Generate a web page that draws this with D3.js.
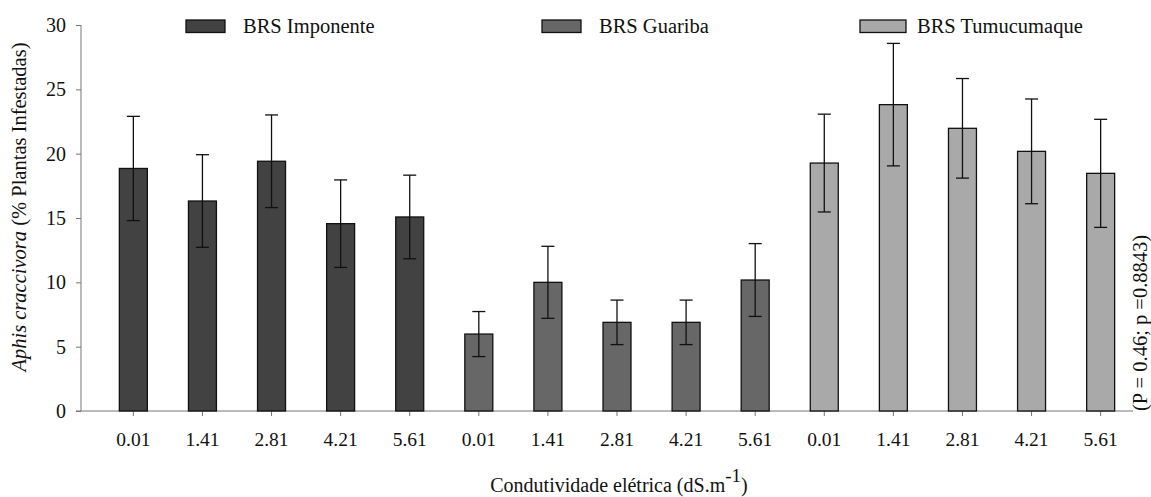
<!DOCTYPE html>
<html>
<head>
<meta charset="utf-8">
<script src="https://cdn.jsdelivr.net/npm/d3@7"></script>
<style>
  body { margin: 0; background: #fff; }
  text { font-family: "Liberation Serif" !important; }
</style>
</head>
<body>
<div id="chart"></div>
<script>
// data
var cultivars = ["BRS Imponente", "BRS Guariba", "BRS Tumucumaque"];
var conductivity = ["0.01", "1.41", "2.81", "4.21", "5.61"];
var means = [
  [18.85, 16.32, 19.41, 14.56, 15.08],
  [5.98, 10.0, 6.89, 6.89, 10.18],
  [19.27, 23.81, 21.97, 20.18, 18.47]
];
var errors = [
  [4.05, 3.6, 3.6, 3.4, 3.25],
  [1.75, 2.8, 1.73, 1.73, 2.83],
  [3.8, 4.76, 3.87, 4.07, 4.2]
];
var yTicks = [0, 5, 10, 15, 20, 25, 30];
var colors = ["#424242", "#676767", "#a9a9a9"];

var width = 1151, height = 497;
var serif = "Liberation Serif";

// flatten into one row per bar
var bars = [];
cultivars.forEach(function(c, g) {
  conductivity.forEach(function(ce, i) {
    bars.push({ key: g + "-" + i, group: g, label: ce, value: means[g][i], err: errors[g][i] });
  });
});

var svg = d3.select("#chart")
            .append("svg")
            .attr("width", width)
            .attr("height", height)
            .attr("font-family", serif)
            .style("font-family", "'" + serif + "'");

var x = d3.scaleBand()
    .domain(bars.map(function(d) { return d.key; }))
    .range([98.8, 1135.2])
    .paddingInner(0.595)
    .paddingOuter(0.2975);

var y = d3.scaleLinear()
    .domain([0, 30])
    .range([411, 25]);

var labelOf = {};
bars.forEach(function(d) { labelOf[d.key] = d.label; });

function serifText(sel, size) {
  sel.attr("font-family", serif)
     .style("font-family", "'" + serif + "'", "important")
     .style("font-size", size + "px")
     .attr("fill", "#111");
}

// y axis
var yAxis = svg.append("g")
    .attr("transform", "translate(81,0)")
    .call(d3.axisLeft(y).tickValues(yTicks).tickSize(5).tickPadding(10));
yAxis.attr("font-family", serif);
yAxis.select(".domain").attr("stroke", "#777").attr("d", "M0," + y(30) + "V" + y(0));
yAxis.selectAll(".tick line").attr("stroke", "#777");
yAxis.selectAll(".tick text").call(serifText, 20);

// x axis
var xAxis = svg.append("g")
    .attr("transform", "translate(0,411)")
    .call(d3.axisBottom(x).tickFormat(function(k) { return labelOf[k]; }).tickSize(5).tickPadding(16));
xAxis.attr("font-family", serif);
xAxis.select(".domain").attr("stroke", "#777").attr("d", "M76,0H1133");
xAxis.selectAll(".tick line").attr("stroke", "#777");
xAxis.selectAll(".tick text").call(serifText, 19.5);

// bars
svg.append("g")
  .selectAll("rect")
    .data(bars)
  .enter().append("rect")
    .attr("x", function(d) { return x(d.key); })
    .attr("y", function(d) { return y(d.value); })
    .attr("width", x.bandwidth())
    .attr("height", function(d) { return y(0) - y(d.value); })
    .style("fill", function(d) { return colors[d.group]; })
    .style("stroke", "#111")
    .style("stroke-width", 1.3);

// error bars
var cap = 6.5;
var eb = svg.append("g")
    .selectAll("g")
    .data(bars)
  .enter().append("g")
    .attr("stroke", "#111")
    .attr("stroke-width", 1.3);
eb.append("line")
    .attr("x1", function(d) { return x(d.key) + x.bandwidth() / 2; })
    .attr("x2", function(d) { return x(d.key) + x.bandwidth() / 2; })
    .attr("y1", function(d) { return y(d.value + d.err); })
    .attr("y2", function(d) { return y(d.value - d.err); });
eb.append("line")
    .attr("x1", function(d) { return x(d.key) + x.bandwidth() / 2 - cap; })
    .attr("x2", function(d) { return x(d.key) + x.bandwidth() / 2 + cap; })
    .attr("y1", function(d) { return y(d.value + d.err); })
    .attr("y2", function(d) { return y(d.value + d.err); });
eb.append("line")
    .attr("x1", function(d) { return x(d.key) + x.bandwidth() / 2 - cap; })
    .attr("x2", function(d) { return x(d.key) + x.bandwidth() / 2 + cap; })
    .attr("y1", function(d) { return y(d.value - d.err); })
    .attr("y2", function(d) { return y(d.value - d.err); });

// legend
var legendX = [186, 542, 860];
var legend = svg.append("g")
  .selectAll("g")
    .data(cultivars)
  .enter().append("g")
    .attr("transform", function(d, i) { return "translate(" + legendX[i] + ",20)"; });
legend.append("rect")
    .attr("width", function(d, i) { return i == 2 ? 46 : 39; })
    .attr("height", 12.5)
    .style("fill", function(d, i) { return colors[i]; })
    .style("stroke", "#111")
    .style("stroke-width", 1.3);
legend.append("text")
    .attr("x", 57)
    .attr("y", 13)
    .call(serifText, 20.5)
    .text(function(d) { return d; });

// axis titles
var yt = svg.append("text")
    .attr("transform", "translate(26,207) rotate(-90)")
    .attr("text-anchor", "middle")
    .call(serifText, 20.5);
yt.append("tspan").style("font-style", "italic").text("Aphis craccivora");
yt.append("tspan").text(" (% Plantas Infestadas)");

var xt = svg.append("text")
    .attr("x", 619)
    .attr("y", 492)
    .attr("text-anchor", "middle")
    .call(serifText, 20);
xt.append("tspan").text("Condutividade elétrica (dS.m");
xt.append("tspan").attr("dy", -10).style("font-size", "19px").text("-1");
xt.append("tspan").attr("dy", 10).text(")");

// stats note on the right
svg.append("text")
    .attr("transform", "translate(1146.5,411) rotate(-90)")
    .attr("text-anchor", "start")
    .call(serifText, 20.5)
    .text("(P = 0.46; p =0.8843)");
</script>
</body>
</html>
